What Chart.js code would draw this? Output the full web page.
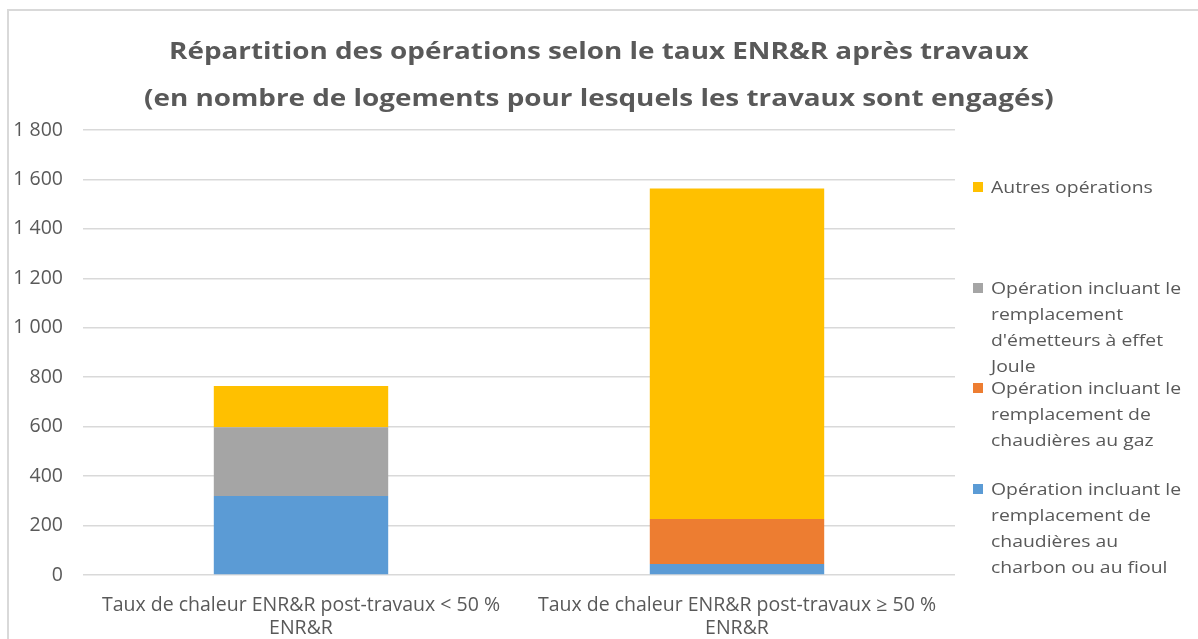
<!DOCTYPE html>
<html><head><meta charset="utf-8">
<script src="https://cdn.jsdelivr.net/npm/chart.js@4"></script>
<style>
html,body{margin:0;padding:0;background:#fff;}
#wrap{position:relative;width:1198px;height:639px;overflow:hidden;}
#frame{position:absolute;left:7px;top:9px;width:1250px;height:700px;border:2px solid #d9d9d9;box-sizing:border-box;}
canvas{position:absolute;left:0;top:0;}
#title{position:absolute;left:0;width:1198px;top:26px;text-align:center;font-family:"Open Sans",sans-serif;font-weight:bold;font-size:24px;line-height:47px;color:#595959;white-space:nowrap;transform:scaleX(1.16);transform-origin:600px 0;}
#legend{position:absolute;left:973px;top:174px;font-family:"Open Sans",sans-serif;font-size:17px;color:#595959;}
.item{position:relative;height:100.5px;}
.sw{position:absolute;left:0;top:8px;width:10px;height:10px;}
.txt{position:absolute;left:18px;top:0;line-height:26px;white-space:nowrap;transform:scaleX(1.14);transform-origin:0 0;}
</style></head>
<body><div id="wrap"><div id="frame"></div><canvas id="c" width="1198" height="639"></canvas><div id="title"></div><div id="legend"></div></div>
<script>
const categories = [["Taux de chaleur ENR&R post-travaux < 50 %","ENR&R"],["Taux de chaleur ENR&R post-travaux ≥ 50 %","ENR&R"]];
const titleLines = ["Répartition des opérations selon le taux ENR&R après travaux","(en nombre de logements pour lesquels les travaux sont engagés)"];
const yTicks = [0,200,400,600,800,1000,1200,1400,1600,1800];
const seriesLines = [
  ["Opération incluant le","remplacement de","chaudières au","charbon ou au fioul"],
  ["Opération incluant le","remplacement de","chaudières au gaz"],
  ["Opération incluant le","remplacement","d'émetteurs à effet","Joule"],
  ["Autres opérations"]
];
const seriesColors = ["#5B9BD5","#ED7D31","#A5A5A5","#FFC000"];
const charbonFioul = [320, 45];
const gaz = [0, 182];
const effetJoule = [278, 0];
const autres = [167, 1336];
const seriesValues = [charbonFioul, gaz, effetJoule, autres];

const fmt = v => String(v).replace(/\B(?=(\d{3})+(?!\d))/g, ' ');
const esc = s => s.replace(/&/g,'&amp;').replace(/</g,'&lt;');

const datasets = seriesValues.map((vals,i)=>({
  label: seriesLines[i].join(' '),
  data: vals,
  backgroundColor: seriesColors[i],
  borderWidth: 0,
  categoryPercentage: 1.0,
  barPercentage: 0.4
}));

const FONT = 'Open Sans';
new Chart(document.getElementById('c'), {
  type: 'bar',
  data: { labels: categories, datasets },
  options: {
    responsive: false,
    devicePixelRatio: 1,
    animation: false,
    layout: { padding: { left: 0, right: 243, top: 130, bottom: 0 } },
    plugins: {
      legend: { display: false },
      tooltip: { enabled: false },
      title: { display: false }
    },
    scales: {
      x: {
        stacked: true,
        afterFit: s => { s.height = 64; },
        grid: { display: false, drawTicks: false },
        border: { display: false },
        ticks: { color: '#595959', font: { family: FONT, size: 19.5, lineHeight: 1.18 }, padding: 19, maxRotation: 0, autoSkip: false }
      },
      y: {
        stacked: true,
        min: 0, max: 1800,
        afterBuildTicks: s => { s.ticks = yTicks.map(v => ({ value: v })); },
        afterFit: s => { s.width = 83; },
        grid: { color: '#d9d9d9', lineWidth: 1.5, drawTicks: false },
        border: { display: false },
        ticks: { color: '#595959', font: { family: FONT, size: 19.5 }, padding: 20, callback: v => fmt(v) }
      }
    }
  }
});

document.getElementById('title').innerHTML = titleLines.map(esc).join('<br>');
const lg = document.getElementById('legend');
for (let i = seriesLines.length - 1; i >= 0; i--) {
  const it = document.createElement('div'); it.className = 'item';
  const sw = document.createElement('div'); sw.className = 'sw'; sw.style.background = seriesColors[i];
  const tx = document.createElement('div'); tx.className = 'txt';
  tx.innerHTML = seriesLines[i].map(esc).join('<br>');
  it.appendChild(sw); it.appendChild(tx); lg.appendChild(it);
}
</script></body></html>
